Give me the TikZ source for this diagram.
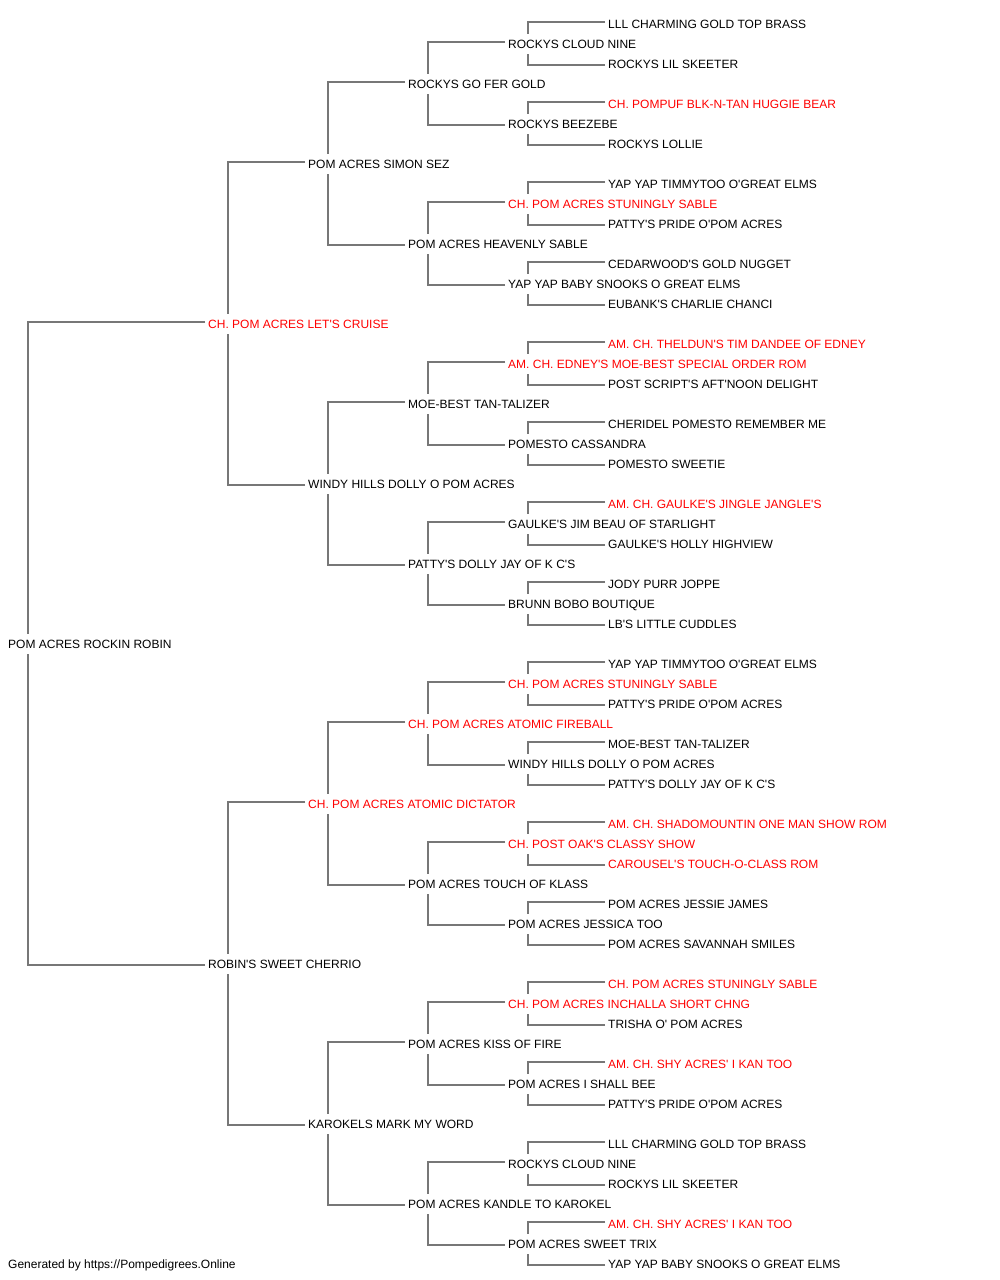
\documentclass[tikz,border=0pt]{standalone}
\usepackage{fontspec}
\setmainfont{Liberation Sans}[Ligatures=TeXOff]
\definecolor{lncol}{RGB}{119,119,119}
\definecolor{chred}{RGB}{255,0,0}
\begin{document}
\begin{tikzpicture}[x=1pt,y=-1pt,
  nm/.style={anchor=west,inner xsep=0pt,inner ysep=5.5pt,text height=9pt,text depth=0pt,font=\fontsize{12}{14}\selectfont,text=black},
  rd/.style={nm,text=chred},
  ln/.style={draw=lncol,line width=1.5pt}]
\fill[white] (0,0) rectangle (1000,1280);
\useasboundingbox (0,0) rectangle (1000,1280);
% leaves x=608
\node[nm] (n0) at (608,24) {LLL CHARMING GOLD TOP BRASS};
\node[nm] (n2) at (608,64) {ROCKYS LIL SKEETER};
\node[rd] (n4) at (608,104) {CH. POMPUF BLK-N-TAN HUGGIE BEAR};
\node[nm] (n6) at (608,144) {ROCKYS LOLLIE};
\node[nm] (n8) at (608,184) {YAP YAP TIMMYTOO O'GREAT ELMS};
\node[nm] (n10) at (608,224) {PATTY'S PRIDE O'POM ACRES};
\node[nm] (n12) at (608,264) {CEDARWOOD'S GOLD NUGGET};
\node[nm] (n14) at (608,304) {EUBANK'S CHARLIE CHANCI};
\node[rd] (n16) at (608,344) {AM. CH. THELDUN'S TIM DANDEE OF EDNEY};
\node[nm] (n18) at (608,384) {POST SCRIPT'S AFT'NOON DELIGHT};
\node[nm] (n20) at (608,424) {CHERIDEL POMESTO REMEMBER ME};
\node[nm] (n22) at (608,464) {POMESTO SWEETIE};
\node[rd] (n24) at (608,504) {AM. CH. GAULKE'S JINGLE JANGLE'S};
\node[nm] (n26) at (608,544) {GAULKE'S HOLLY HIGHVIEW};
\node[nm] (n28) at (608,584) {JODY PURR JOPPE};
\node[nm] (n30) at (608,624) {LB'S LITTLE CUDDLES};
\node[nm] (n32) at (608,664) {YAP YAP TIMMYTOO O'GREAT ELMS};
\node[nm] (n34) at (608,704) {PATTY'S PRIDE O'POM ACRES};
\node[nm] (n36) at (608,744) {MOE-BEST TAN-TALIZER};
\node[nm] (n38) at (608,784) {PATTY'S DOLLY JAY OF K C'S};
\node[rd] (n40) at (608,824) {AM. CH. SHADOMOUNTIN ONE MAN SHOW ROM};
\node[rd] (n42) at (608,864) {CAROUSEL'S TOUCH-O-CLASS ROM};
\node[nm] (n44) at (608,904) {POM ACRES JESSIE JAMES};
\node[nm] (n46) at (608,944) {POM ACRES SAVANNAH SMILES};
\node[rd] (n48) at (608,984) {CH. POM ACRES STUNINGLY SABLE};
\node[nm] (n50) at (608,1024) {TRISHA O' POM ACRES};
\node[rd] (n52) at (608,1064) {AM. CH. SHY ACRES' I KAN TOO};
\node[nm] (n54) at (608,1104) {PATTY'S PRIDE O'POM ACRES};
\node[nm] (n56) at (608,1144) {LLL CHARMING GOLD TOP BRASS};
\node[nm] (n58) at (608,1184) {ROCKYS LIL SKEETER};
\node[rd] (n60) at (608,1224) {AM. CH. SHY ACRES' I KAN TOO};
\node[nm] (n62) at (608,1264) {YAP YAP BABY SNOOKS O GREAT ELMS};
% x=508
\node[nm] (n1) at (508,44) {ROCKYS CLOUD NINE};
\node[nm] (n5) at (508,124) {ROCKYS BEEZEBE};
\node[rd] (n9) at (508,204) {CH. POM ACRES STUNINGLY SABLE};
\node[nm] (n13) at (508,284) {YAP YAP BABY SNOOKS O GREAT ELMS};
\node[rd] (n17) at (508,364) {AM. CH. EDNEY'S MOE-BEST SPECIAL ORDER ROM};
\node[nm] (n21) at (508,444) {POMESTO CASSANDRA};
\node[nm] (n25) at (508,524) {GAULKE'S JIM BEAU OF STARLIGHT};
\node[nm] (n29) at (508,604) {BRUNN BOBO BOUTIQUE};
\node[rd] (n33) at (508,684) {CH. POM ACRES STUNINGLY SABLE};
\node[nm] (n37) at (508,764) {WINDY HILLS DOLLY O POM ACRES};
\node[rd] (n41) at (508,844) {CH. POST OAK'S CLASSY SHOW};
\node[nm] (n45) at (508,924) {POM ACRES JESSICA TOO};
\node[rd] (n49) at (508,1004) {CH. POM ACRES INCHALLA SHORT CHNG};
\node[nm] (n53) at (508,1084) {POM ACRES I SHALL BEE};
\node[nm] (n57) at (508,1164) {ROCKYS CLOUD NINE};
\node[nm] (n61) at (508,1244) {POM ACRES SWEET TRIX};
% x=408
\node[nm] (n3) at (408,84) {ROCKYS GO FER GOLD};
\node[nm] (n11) at (408,244) {POM ACRES HEAVENLY SABLE};
\node[nm] (n19) at (408,404) {MOE-BEST TAN-TALIZER};
\node[nm] (n27) at (408,564) {PATTY'S DOLLY JAY OF K C'S};
\node[rd] (n35) at (408,724) {CH. POM ACRES ATOMIC FIREBALL};
\node[nm] (n43) at (408,884) {POM ACRES TOUCH OF KLASS};
\node[nm] (n51) at (408,1044) {POM ACRES KISS OF FIRE};
\node[nm] (n59) at (408,1204) {POM ACRES KANDLE TO KAROKEL};
% x=308
\node[nm] (n7) at (308,164) {POM ACRES SIMON SEZ};
\node[nm] (n23) at (308,484) {WINDY HILLS DOLLY O POM ACRES};
\node[rd] (n39) at (308,804) {CH. POM ACRES ATOMIC DICTATOR};
\node[nm] (n55) at (308,1124) {KAROKELS MARK MY WORD};
% x=208
\node[rd] (n15) at (208,324) {CH. POM ACRES LET'S CRUISE};
\node[nm] (n47) at (208,964) {ROBIN'S SWEET CHERRIO};
% root
\node[nm] (n31) at (8,644) {POM ACRES ROCKIN ROBIN};
% footer
\node[nm] (foot) at (8,1264) {Generated by https://Pompedigrees.Online};
% connectors
\foreach \p/\h in {1/1,5/1,9/1,13/1,17/1,21/1,25/1,29/1,33/1,37/1,41/1,45/1,49/1,53/1,57/1,61/1,
  3/2,11/2,19/2,27/2,35/2,43/2,51/2,59/2,7/4,23/4,39/4,55/4,15/8,47/8,31/16}{
  \pgfmathtruncatemacro\a{\p-\h}
  \pgfmathtruncatemacro\b{\p+\h}
  \draw[ln] ([xshift=-3pt,yshift=2pt]n\a.west) -| ([xshift=20pt]n\p.north west);
  \draw[ln] ([xshift=-3pt,yshift=-1pt]n\b.west) -| ([xshift=20pt]n\p.south west);
}
\end{tikzpicture}
\end{document}
